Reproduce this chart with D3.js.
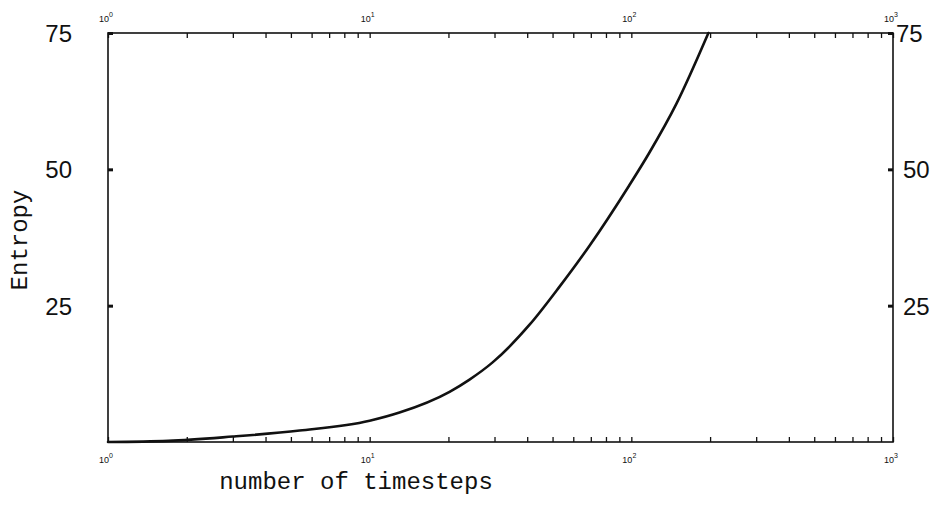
<!DOCTYPE html>
<html>
<head>
<meta charset="utf-8">
<script src="https://cdn.jsdelivr.net/npm/d3@7"></script>
<style>
  html, body { margin: 0; padding: 0; background: #fff; }
  svg { display: block; }
</style>
</head>
<body>
<svg id="chart" width="939" height="511"></svg>
<script>
// Entropy growth against number of timesteps (log scale)
const timesteps = [1, 1.7, 3, 5.4, 10, 13, 20.2, 24, 29.5, 41, 53, 69, 98, 117, 148.6, 197];
const entropy   = [0, 0.2, 1.0, 2.1, 3.9, 5.4, 9.2, 11.4, 14.6, 21.6, 28.4, 35.9, 47.0, 53.0, 62.0, 75];
const yTicks = [25, 50, 75];
const xDecades = [0, 1, 2, 3];
const xLabel = "number of timesteps";
const yLabel = "Entropy";

const svg = d3.select("#chart");
const plotLeft = 108, plotRight = 893, plotTop = 33, plotBottom = 442;

const x = d3.scaleLog().domain([1, 1000]).range([plotLeft, plotRight]);
const y = d3.scaleLinear().domain([0, 75]).range([plotBottom, plotTop]);

const ink = "#111";
const monoFont = "'Liberation Mono', 'DejaVu Sans Mono', monospace";
const sansFont = "'Liberation Sans', Arial, sans-serif";

// frame
svg.append("rect")
  .attr("x", plotLeft).attr("y", plotTop)
  .attr("width", plotRight - plotLeft).attr("height", plotBottom - plotTop)
  .attr("fill", "none").attr("stroke", ink).attr("stroke-width", 1.6);

// minor + major log ticks (inward) on bottom and top
const minor = [];
for (let d = 0; d < 3; d++) for (let m = 1; m <= 9; m++) minor.push(m * Math.pow(10, d));
minor.push(1000);

const bottomAxis = d3.axisTop(x).tickValues(minor).tickSize(5).tickFormat("");
const topAxis = d3.axisBottom(x).tickValues(minor).tickSize(5).tickFormat("");
const gb = svg.append("g").attr("transform", `translate(0,${plotBottom})`).call(bottomAxis);
const gt = svg.append("g").attr("transform", `translate(0,${plotTop})`).call(topAxis);
[gb, gt].forEach(g => {
  g.select(".domain").remove();
  g.selectAll("line").attr("stroke", ink).attr("stroke-width", 1.3);
});

// left / right ticks
const leftAxis = d3.axisRight(y).tickValues(yTicks).tickSize(5).tickFormat("");
const rightAxis = d3.axisLeft(y).tickValues(yTicks).tickSize(5).tickFormat("");
const gl = svg.append("g").attr("transform", `translate(${plotLeft},0)`).call(leftAxis);
const gr = svg.append("g").attr("transform", `translate(${plotRight},0)`).call(rightAxis);
[gl, gr].forEach(g => {
  g.select(".domain").remove();
  g.selectAll("line").attr("stroke", ink).attr("stroke-width", 3);
});

// y tick labels on both sides
yTicks.forEach(v => {
  svg.append("text").attr("x", 72).attr("y", y(v) + 9)
    .attr("text-anchor", "end").attr("font-family", sansFont)
    .attr("font-size", 24).attr("fill", ink).text(v);
  svg.append("text").attr("x", v === 75 ? 896 : 903).attr("y", y(v) + 9)
    .attr("text-anchor", "start").attr("font-family", sansFont)
    .attr("font-size", 24).attr("fill", ink).text(v);
});

// decade labels 10^n, top and bottom
function decadeLabel(px, py, n) {
  const t = svg.append("text").attr("x", px).attr("y", py)
    .attr("text-anchor", "middle").attr("font-family", sansFont)
    .attr("font-size", 9).attr("fill", ink);
  t.append("tspan").text("10");
  t.append("tspan").attr("dy", -5).attr("font-size", 7).text(n);
}
xDecades.forEach(n => {
  const px = x(Math.pow(10, n));
  decadeLabel(px - 2, 463, n);
  decadeLabel(px - 2, 22, n);
});

// axis titles
svg.append("text").attr("x", 356).attr("y", 489)
  .attr("text-anchor", "middle").attr("font-family", monoFont)
  .attr("font-size", 24).attr("fill", ink).text(xLabel);
svg.append("text")
  .attr("transform", "translate(27,240) rotate(-90)")
  .attr("text-anchor", "middle").attr("font-family", monoFont)
  .attr("font-size", 24).attr("fill", ink).text(yLabel);

// entropy curve
const pts = timesteps.map((t, i) => [t, entropy[i]]);
svg.append("path")
  .datum(pts)
  .attr("fill", "none").attr("stroke", ink).attr("stroke-width", 2.6)
  .attr("stroke-linecap", "round")
  .attr("d", d3.line().x(d => x(d[0])).y(d => y(d[1])).curve(d3.curveMonotoneX));
</script>
</body>
</html>
